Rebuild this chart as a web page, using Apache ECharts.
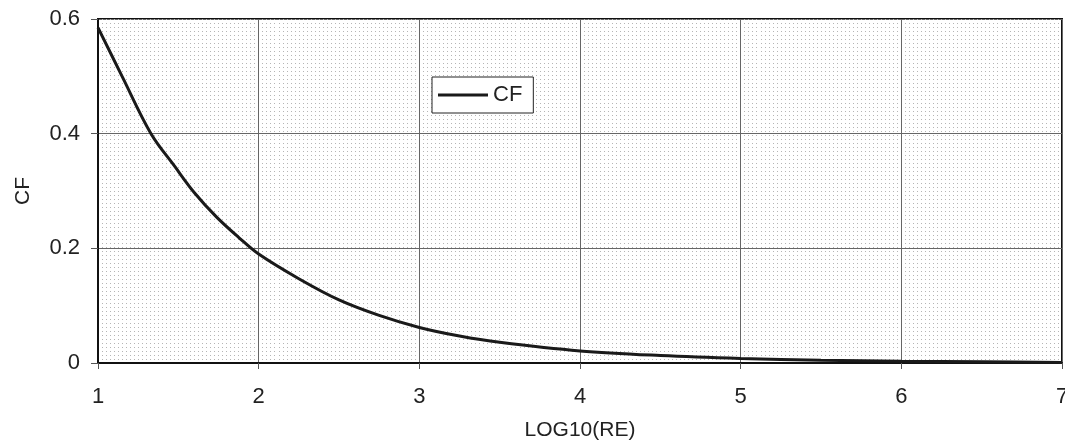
<!DOCTYPE html>
<html>
<head>
<meta charset="utf-8">
<script src="https://cdn.jsdelivr.net/npm/echarts@6/dist/echarts.min.js"></script>
<style>
html,body{margin:0;padding:0;background:#fff;}
#chart{width:1065px;height:447px;}
</style>
</head>
<body>
<div id="chart"></div>
<script>
const logRe = [1, 1.15, 1.33, 1.48, 1.6, 1.74, 1.88, 2, 2.25, 2.5, 2.75, 3, 3.25, 3.5, 4, 4.5, 5, 5.5, 6, 6.5, 7];
const cf = [0.585, 0.50, 0.40, 0.342, 0.297, 0.254, 0.218, 0.19, 0.147, 0.11, 0.083, 0.062, 0.047, 0.036, 0.021, 0.013, 0.008, 0.005, 0.003, 0.002, 0.001];
const xTicks = [1, 2, 3, 4, 5, 6, 7];
const yTicks = [0, 0.2, 0.4, 0.6];

const chart = echarts.init(document.getElementById('chart'));
const font = 'Liberation Sans, Arial, sans-serif';
chart.setOption({
  animation: false,
  backgroundColor: '#fff',
  grid: {left: 98, right: 3, top: 19, bottom: 84, show: true, borderColor: '#111', borderWidth: 2,
    backgroundColor: '#fff', containLabel: false, outerBoundsMode: 'none'},
  legend: {
    left: 432, top: 77, orient: 'horizontal',
    backgroundColor: '#fff', borderColor: '#222', borderWidth: 1, borderRadius: 0,
    padding: [7, 11, 7, 6], itemWidth: 50, itemHeight: 3, itemGap: 4,
    textStyle: {fontFamily: font, fontSize: 22, color: '#222'},
    data: [{name: 'CF', icon: 'rect'}]
  },
  xAxis: {
    type: 'value', min: 1, max: 7, interval: 1,
    name: 'LOG10(RE)', nameLocation: 'middle', nameGap: 57,
    nameTextStyle: {fontFamily: font, fontSize: 21, color: '#222'},
    axisLine: {show: true, onZero: false, lineStyle: {color: '#111', width: 2}},
    axisTick: {show: true, length: 6, lineStyle: {color: '#555'}},
    axisLabel: {fontFamily: font, fontSize: 22, color: '#222', margin: 23, showMaxLabel: true, showMinLabel: true,
      formatter: v => xTicks.includes(v) ? String(v) : ''},
    splitLine: {show: true, lineStyle: {color: '#666', width: 1}},
    minorTick: {show: false, splitNumber: 40},
    minorSplitLine: {show: true, lineStyle: {color: '#b5b5b5', width: 1, type: [1, 3]}}
  },
  yAxis: {
    type: 'value', min: 0, max: 0.6, interval: 0.2,
    name: 'CF', nameLocation: 'middle', nameGap: 64, nameRotate: 90,
    nameTextStyle: {fontFamily: font, fontSize: 21, color: '#222'},
    axisLine: {show: true, lineStyle: {color: '#111', width: 2}},
    axisTick: {show: true, length: 7, lineStyle: {color: '#555'}},
    axisLabel: {fontFamily: font, fontSize: 22, color: '#222', margin: 18,
      formatter: v => { const t = yTicks.find(k => Math.abs(k - v) < 1e-9); return t === undefined ? '' : String(t); }},
    splitLine: {show: true, lineStyle: {color: '#666', width: 1}}
  },
  series: [{
    name: 'CF', type: 'line', smooth: 0.35, symbol: 'none', showSymbol: false,
    lineStyle: {color: '#1a1a1a', width: 3},
    itemStyle: {color: '#1a1a1a'},
    data: logRe.map((x, i) => [x, cf[i]])
  }]
});
</script>
</body>
</html>
